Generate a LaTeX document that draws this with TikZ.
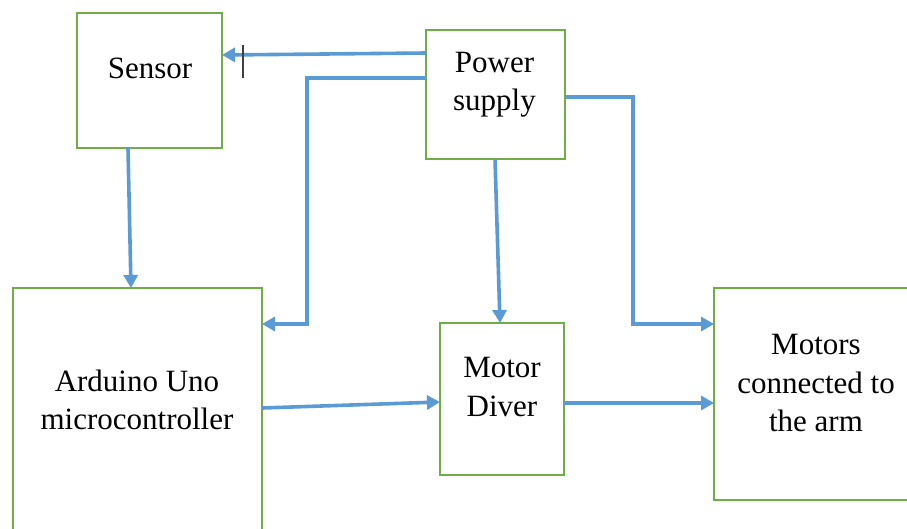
\documentclass[tikz,border=0pt]{standalone}
\usepackage{fontspec}
\setmainfont{Liberation Serif}
\usetikzlibrary{arrows.meta}
\definecolor{boxgreen}{HTML}{70AD47}
\definecolor{arrblue}{HTML}{5B9BD5}
\definecolor{cursorgray}{HTML}{404040}
\tikzset{
  box/.style={draw=boxgreen, line width=2.8pt, fill=none, inner sep=0pt, outer sep=0pt},
  txt/.style={align=center, inner sep=0pt, font=\fontsize{31}{38.5}\selectfont},
  arr/.style={draw=arrblue, line width=3.6pt, -{Triangle[length=13pt,width=14pt]}},
  cursorline/.style={draw=cursorgray, line width=1.4pt}
}
\begin{document}
\begin{tikzpicture}[x=1pt,y=-1pt]
\clip (0,0) rectangle (907,528);
\fill[white] (0,0) rectangle (907,528);
% boxes
\node[box, minimum width=145pt, minimum height=135pt] (sensor) at (149.5,80.5) {};
\node[box, minimum width=139pt, minimum height=129pt] (power) at (495.5,94.5) {};
\node[box, minimum width=249pt, minimum height=272pt] (ard) at (137.5,424) {};
\node[box, minimum width=124pt, minimum height=152pt] (driver) at (502,399) {};
\node[box, minimum width=216pt, minimum height=212pt] (motors) at (822,394) {};
% texts
\node[txt] (sensortxt) at (150,68) {Sensor};
\node[txt] (powertxt) at (494.5,84.5) {Power\\supply};
\node[txt] (ardtxt) at (137,400) {Arduino Uno\\microcontroller};
\node[txt] (drivertxt) at (502,387) {Motor\\Diver};
\node[txt] (motorstxt) at (816,383) {Motors\\connected to\\the arm};
% connectors
\draw[arr] ([yshift=41.5pt]power.west) -- ([yshift=25.5pt]sensor.east);
\draw[arr] ([yshift=16.5pt]power.west) -| ([xshift=45pt,yshift=100pt]ard.east) -- ([yshift=100pt]ard.east);
\draw[arr] ([xshift=-0.5pt]power.south) -- ([xshift=-2pt]driver.north);
\draw[arr] ([yshift=-2.5pt]power.east) -| ([xshift=-81pt,yshift=70pt]motors.west) -- ([yshift=70pt]motors.west);
\draw[arr] ([xshift=-21.5pt]sensor.south) -- ([xshift=-6.5pt]ard.north);
\draw[arr] ([yshift=16pt]ard.east) -- ([yshift=-3pt]driver.west);
\draw[arr] ([yshift=-4pt]driver.east) -- ([yshift=-9pt]motors.west);
% stray cursor mark
\coordinate (curtop) at (243,45);
\coordinate (curbot) at (243,78);
\draw[cursorline] (curtop) -- (curbot);
\end{tikzpicture}
\end{document}
